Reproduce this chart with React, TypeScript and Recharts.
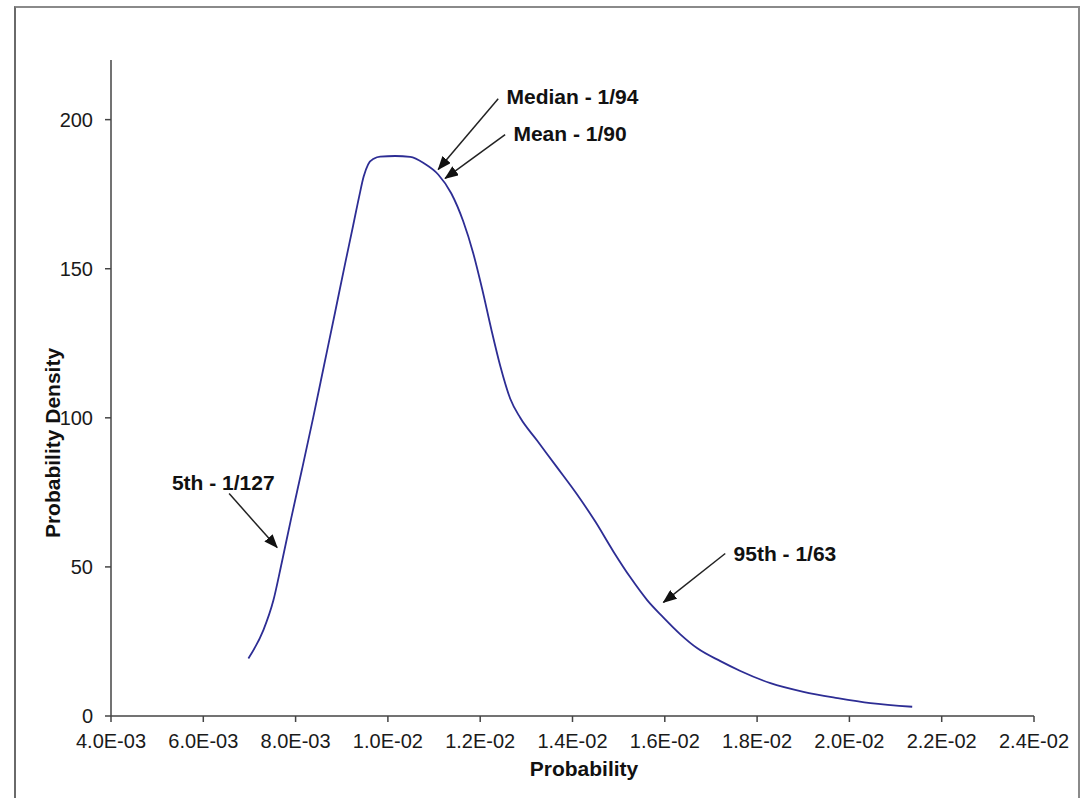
import { LineChart, Line, XAxis, YAxis, ReferenceLine, ReferenceDot, Customized } from "recharts";

// curve
const probability = [
  0.006977, 0.007302, 0.007519, 0.007701, 0.007903, 0.008141, 0.00838, 0.008618, 0.008857, 0.009074,
  0.009247, 0.009377, 0.009475, 0.009572, 0.009703, 0.009833, 0.010158, 0.010483, 0.010787, 0.01109,
  0.011372, 0.011632, 0.011849, 0.012044, 0.012239, 0.012435, 0.012651, 0.012868, 0.013237, 0.01367,
  0.014104, 0.014494, 0.014885, 0.015253, 0.015622, 0.015947, 0.016337, 0.016706, 0.017205, 0.017638,
  0.018289, 0.019004, 0.019742, 0.020457, 0.021361,
];
const density = [
  19.3, 28.8, 38.8, 51.5, 66.2, 82.9, 100.0, 117.7, 135.5, 151.8,
  164.5, 174.2, 180.9, 185.0, 187.0, 187.6, 187.8, 187.5, 185.3, 181.6,
  175.3, 165.9, 155.2, 143.1, 129.8, 117.4, 106.4, 100.0, 92.3, 83.3,
  74.2, 65.2, 55.2, 46.5, 38.8, 33.4, 27.4, 22.7, 18.4, 15.1,
  11.0, 8.1, 6.0, 4.3, 3.1,
];

const xTicks = [0.004, 0.006, 0.008, 0.01, 0.012, 0.014, 0.016, 0.018, 0.02, 0.022, 0.024];
const xTickLabels = [
  "4.0E-03", "6.0E-03", "8.0E-03", "1.0E-02", "1.2E-02", "1.4E-02",
  "1.6E-02", "1.8E-02", "2.0E-02", "2.2E-02", "2.4E-02",
];
const yTicks = [0, 50, 100, 150, 200];

// annotations: label text, where the text starts, arrow tail and arrow tip
const noteLabels = ["5th - 1/127", "Median - 1/94", "Mean - 1/90", "95th - 1/63"];
const noteTextAt = [
  [0.00532, 78.3],
  [0.01257, 207.7],
  [0.01272, 195.3],
  [0.01749, 54.5],
];
const noteTail = [
  [0.00656, 74.6],
  [0.01239, 207.0],
  [0.01254, 195.0],
  [0.01731, 54.5],
];
const noteTip = [
  [0.0076, 56.5],
  [0.01109, 183.3],
  [0.01124, 180.3],
  [0.01597, 38.1],
];

const chartData = probability.map((p, i) => ({ p, d: density[i] }));

const font = "'Liberation Sans', Arial, sans-serif";

function ArrowDefs() {
  return (
    <defs>
      <marker
        id="arrowHead"
        markerUnits="userSpaceOnUse"
        markerWidth={14}
        markerHeight={11}
        refX={13}
        refY={5.5}
        orient="auto"
      >
        <path d="M0,0 L14,5.5 L0,11 z" fill="#111" />
      </marker>
    </defs>
  );
}

export default function App() {
  return (
    <div style={{ position: "absolute", left: 0, top: 0, width: 1080, height: 798, background: "#fff", overflow: "hidden" }}>
      <div
        style={{
          position: "absolute",
          left: 14,
          top: 6,
          width: 1062,
          height: 820,
          borderTop: "2px solid #8a8a8a",
          borderLeft: "2px solid #6a6a6a",
          borderRight: "2px solid #8a8a8a",
        }}
      />
      <LineChart
        width={1080}
        height={798}
        data={chartData}
        margin={{ top: 60, right: 46, bottom: 22, left: 51 }}
        style={{ position: "absolute", left: 0, top: 0, fontFamily: font }}
      >
        <Customized component={ArrowDefs} />
        <XAxis
          dataKey="p"
          type="number"
          domain={[0.004, 0.024]}
          ticks={xTicks}
          tickFormatter={(v: number) => xTickLabels[xTicks.findIndex((t) => Math.abs(t - v) < 1e-9)] ?? ""}
          height={60}
          stroke="#444"
          strokeWidth={1.5}
          tickSize={6}
          tickMargin={12}
          interval={0}
          tick={{ fill: "#1a1a1a", fontSize: 20, fontFamily: font }}
          label={({ viewBox }: any) => (
            <text
              x={584}
              y={viewBox.y + 52}
              textAnchor="middle"
              dominantBaseline="central"
              fontFamily={font}
              fontWeight="bold"
              fontSize={21}
              fill="#111"
            >
              Probability
            </text>
          )}
        />
        <YAxis
          type="number"
          domain={[0, 220]}
          ticks={yTicks}
          width={60}
          stroke="#444"
          strokeWidth={1.5}
          tickSize={6}
          tickMargin={12}
          tick={{ fill: "#1a1a1a", fontSize: 20, fontFamily: font }}
          label={({ viewBox }: any) => (
            <text
              x={viewBox.x + 1}
              y={443}
              transform={`rotate(-90, ${viewBox.x + 1}, 443)`}
              textAnchor="middle"
              dominantBaseline="central"
              fontFamily={font}
              fontWeight="bold"
              fontSize={21}
              fill="#111"
            >
              Probability Density
            </text>
          )}
        />
        <Line
          type="monotone"
          dataKey="d"
          stroke="#2d2d94"
          strokeWidth={1.8}
          dot={false}
          isAnimationActive={false}
        />
        {noteLabels.map((label, i) => (
          <ReferenceLine
            key={`a${i}`}
            segment={[
              { x: noteTail[i][0], y: noteTail[i][1] },
              { x: noteTip[i][0], y: noteTip[i][1] },
            ]}
            stroke="#222"
            strokeWidth={1.5}
            markerEnd="url(#arrowHead)"
            ifOverflow="visible"
          />
        ))}
        {noteLabels.map((label, i) => (
          <ReferenceDot
            key={`t${i}`}
            x={noteTextAt[i][0]}
            y={noteTextAt[i][1]}
            r={0}
            ifOverflow="visible"
            shape={(p: any) => (
              <text
                x={p.cx}
                y={p.cy}
                textAnchor="start"
                dominantBaseline="central"
                fontFamily={font}
                fontWeight="bold"
                fontSize={21}
                fill="#111"
              >
                {label}
              </text>
            )}
          />
        ))}
      </LineChart>
    </div>
  );
}
